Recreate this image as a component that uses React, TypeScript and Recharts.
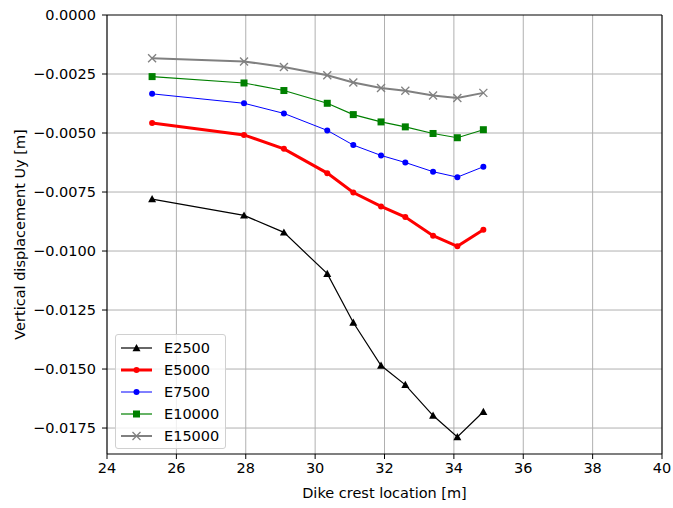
import React from 'react';
import { LineChart, Line, XAxis, YAxis, CartesianGrid, ReferenceLine } from 'recharts';

const crestX = [25.3, 27.95, 29.1, 30.35, 31.1, 31.9, 32.6, 33.4, 34.1, 34.85];

const e2500 = [-0.0078, -0.00849, -0.00921, -0.01096, -0.01303, -0.01485, -0.01567, -0.01697, -0.01788, -0.01681];
const e5000 = [-0.00458, -0.00508, -0.00567, -0.0067, -0.00752, -0.00811, -0.00856, -0.00935, -0.0098, -0.0091];
const e7500 = [-0.00334, -0.00374, -0.00417, -0.00489, -0.00551, -0.00595, -0.00625, -0.00664, -0.00687, -0.00643];
const e10000 = [-0.00261, -0.00288, -0.0032, -0.00374, -0.00422, -0.00453, -0.00474, -0.00502, -0.0052, -0.00486];
const e15000 = [-0.00183, -0.00197, -0.0022, -0.00255, -0.00286, -0.00309, -0.00321, -0.00341, -0.00352, -0.0033];

const xTicks = [24, 26, 28, 30, 32, 34, 36, 38, 40];
const yTicks = [0, -0.0025, -0.005, -0.0075, -0.01, -0.0125, -0.015, -0.0175];

const data = crestX.map((x, i) => ({
  x,
  E2500: e2500[i],
  E5000: e5000[i],
  E7500: e7500[i],
  E10000: e10000[i],
  E15000: e15000[i],
}));

const font = 'DejaVu Sans, sans-serif';
const fs = 14.5;
const spine = { stroke: '#000', strokeWidth: 1.2 };

// inner grid lines only; the frame is drawn by the axes and reference lines
const gridX = xTicks.slice(1, -1);
const gridY = yTicks.slice(1);

type Marker = 'triangle' | 'circle' | 'square' | 'x';

const series: { key: string; color: string; width: number; marker: Marker; size: number }[] = [
  { key: 'E2500', color: '#000000', width: 1.2, marker: 'triangle', size: 4 },
  { key: 'E5000', color: '#ff0000', width: 3, marker: 'circle', size: 3 },
  { key: 'E7500', color: '#0000ff', width: 1, marker: 'circle', size: 3 },
  { key: 'E10000', color: '#008000', width: 1.2, marker: 'square', size: 3.5 },
  { key: 'E15000', color: '#808080', width: 2, marker: 'x', size: 4 },
];

function drawMarker(marker: Marker, cx: number, cy: number, s: number, color: string, key?: string) {
  if (marker === 'triangle') {
    return <polygon key={key} points={`${cx},${cy - s} ${cx - s},${cy + s * 0.8} ${cx + s},${cy + s * 0.8}`} fill={color} />;
  }
  if (marker === 'circle') {
    return <circle key={key} cx={cx} cy={cy} r={s} fill={color} />;
  }
  if (marker === 'square') {
    return <rect key={key} x={cx - s} y={cy - s} width={s * 2} height={s * 2} fill={color} />;
  }
  return (
    <g key={key} stroke={color} strokeWidth={1.3}>
      <line x1={cx - s} y1={cy - s} x2={cx + s} y2={cy + s} />
      <line x1={cx - s} y1={cy + s} x2={cx + s} y2={cy - s} />
    </g>
  );
}

function LegendBox() {
  return (
    <div
      style={{
        position: 'absolute',
        left: 115,
        top: 334,
        width: 111,
        height: 115,
        border: '1px solid #d0d0d0',
        borderRadius: 3,
        background: 'rgba(255,255,255,0.8)',
        boxSizing: 'border-box',
        fontFamily: font,
        fontSize: fs,
      }}
    >
      {series.map((s, i) => (
        <div key={s.key} style={{ position: 'absolute', left: 0, top: 2 + i * 22, height: 22, display: 'flex', alignItems: 'center' }}>
          <svg width={46} height={22}>
            <line x1={5} y1={11} x2={36} y2={11} stroke={s.color} strokeWidth={s.width} />
            {drawMarker(s.marker, 20.5, 11, s.size, s.color)}
          </svg>
          <span style={{ color: '#000', marginLeft: 2, whiteSpace: 'nowrap' }}>{s.key}</span>
        </div>
      ))}
    </div>
  );
}

export default function App() {
  return (
    <div style={{ position: 'absolute', left: 0, top: 0, width: 673, height: 508, background: '#fff' }}>
      <LineChart width={673} height={508} data={data} margin={{ top: 15, right: 11, left: 10, bottom: 8 }}>
        <CartesianGrid stroke="#b0b0b0" strokeWidth={1} verticalValues={gridX} horizontalValues={gridY} />
        <XAxis
          dataKey="x"
          type="number"
          domain={[24, 40]}
          ticks={xTicks}
          height={46}
          axisLine={spine}
          tickLine={{ stroke: '#000' }}
          tickSize={5}
          tickMargin={4}
          tick={{ fill: '#000', fontSize: fs, fontFamily: font }}
          label={{ value: 'Dike crest location [m]', position: 'insideBottom', offset: 2, fill: '#000', fontSize: fs, fontFamily: font }}
        />
        <YAxis
          type="number"
          domain={[-0.0186, 0]}
          allowDataOverflow
          ticks={yTicks}
          width={97}
          axisLine={spine}
          tickLine={{ stroke: '#000' }}
          tickSize={5}
          tickMargin={6}
          tickFormatter={(v: number) => (v < 0 ? '\u2212' + Math.abs(v).toFixed(4) : v.toFixed(4))}
          tick={{ fill: '#000', fontSize: fs, fontFamily: font }}
          label={{ value: 'Vertical displacement Uy [m]', angle: -90, position: 'insideLeft', offset: 10, style: { textAnchor: 'middle' }, fill: '#000', fontSize: fs, fontFamily: font }}
        />
        <ReferenceLine y={0} stroke="#000" strokeWidth={1.2} />
        <ReferenceLine x={40} stroke="#000" strokeWidth={1.2} />
        {series.map((s) => (
          <Line
            key={s.key}
            dataKey={s.key}
            stroke={s.color}
            strokeWidth={s.width}
            isAnimationActive={false}
            dot={(p: any) => drawMarker(s.marker, p.cx, p.cy, s.size, s.color, `${s.key}-${p.index}`)}
            activeDot={false}
          />
        ))}
      </LineChart>
      <LegendBox />
    </div>
  );
}
